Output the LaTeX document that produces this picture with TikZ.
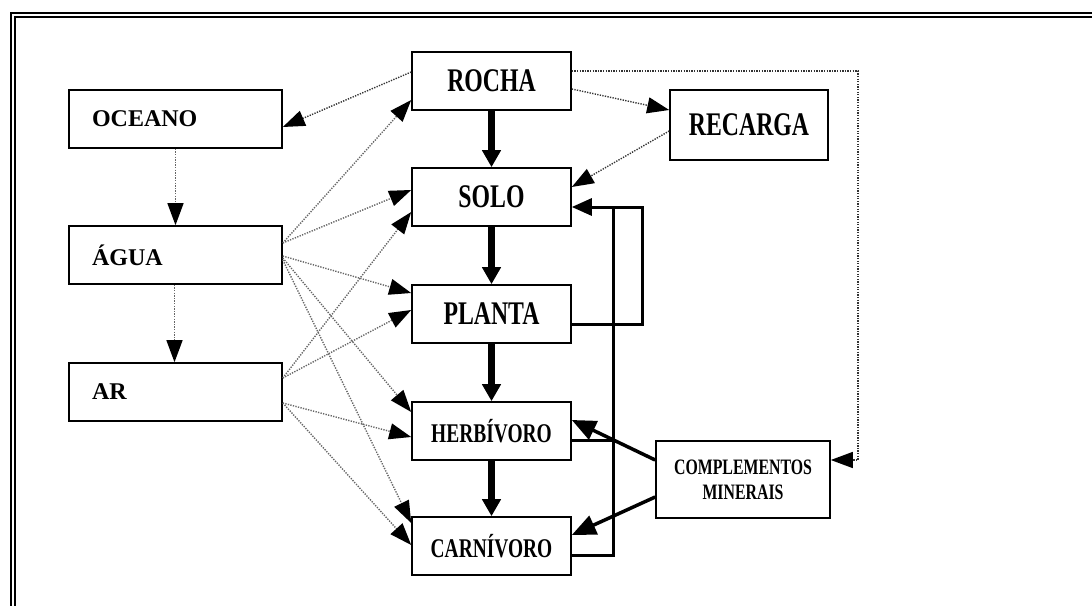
\documentclass[tikz,border=0pt]{standalone}
\usepackage{fontspec}
\setmainfont{Liberation Serif}
\newfontfamily\narrowfont[FakeStretch=0.72]{Liberation Serif}
\usepackage{tikz}
\usetikzlibrary{arrows.meta, calc}

\tikzset{
  box/.style={draw, line width=1.6pt, minimum height=58pt, inner sep=0pt},
  leftbox/.style={box, minimum width=213pt, text width=167pt, align=left,
    font=\bfseries\fontsize{24}{26}\selectfont},
  midbox/.style={box, minimum width=159pt, align=center,
    font=\narrowfont\bfseries\fontsize{33}{36}\selectfont},
  dotline/.style={dash pattern=on 1.3pt off 1.3pt, line width=1.4pt, black!60,
    -{Triangle[length=22pt, width=16pt, black]}},
  flowline/.style={line width=7pt, -{Triangle[length=17pt, width=18pt]}},
  loopline/.style={line width=3pt, line join=miter},
  addline/.style={line width=3.5pt, -{Triangle[length=24pt, width=20pt]}}
}

\begin{document}
\begin{tikzpicture}[x=1pt, y=-1pt]
  \useasboundingbox (0,0) rectangle (1092,605);

  % Frame
  \draw[double, line width=1.4pt, double distance=2.6pt] (13,615) -- (13,15) -- (1100,15);

  % Left column
  \node[leftbox] (oceano) at (175.5,119) {OCEANO};
  \node[leftbox] (agua) at (175.5,255) {ÁGUA};
  \node[leftbox] (ar) at (175.5,392) {AR};

  % Middle column
  \node[midbox] (rocha) at (491.5,81) {ROCHA};
  \node[midbox] (solo) at (491.5,197) {SOLO};
  \node[midbox] (planta) at (491.5,314) {PLANTA};
  \node[midbox, font=\narrowfont\bfseries\fontsize{27}{30}\selectfont] (herb) at (491.5,431) {HERBÍVORO};
  \node[midbox, font=\narrowfont\bfseries\fontsize{27}{30}\selectfont] (carn) at (491.5,546) {CARNÍVORO};

  % Right column
  \node[midbox, minimum width=158pt, minimum height=70pt] (recarga) at (749,125) {RECARGA};
  \node[midbox, minimum width=174pt, minimum height=77pt,
    font=\narrowfont\bfseries\fontsize{22}{25}\selectfont] (compl) at (743,479.5) {COMPLEMENTOS\\MINERAIS};

  % Food chain
  \draw[flowline] (rocha) -- (solo);
  \draw[flowline] (solo) -- (planta);
  \draw[flowline] (planta) -- (herb);
  \draw[flowline] (herb) -- (carn);

  % Return to the soil
  \coordinate (outer) at (642,207);
  \coordinate (inner) at (613,207);
  \draw[loopline] ([yshift=-10pt]planta.east) -| (outer) -- (inner);
  \draw[loopline] ([yshift=-9pt]herb.east) -- ([yshift=-9pt]herb.east -| inner);
  \draw[loopline] ([yshift=-9pt]carn.east) -| (inner);
  \draw[loopline, -{Triangle[length=20pt, width=17pt]}] (inner) -- ([yshift=-10pt]solo.east);

  % Mineral supplements
  \draw[addline] ([yshift=19.5pt]compl.west) -- ([yshift=11pt]herb.east);
  \draw[addline] ([yshift=-17.5pt]compl.west) -- ([yshift=11pt]carn.east);

  % Rock
  \draw[dotline, black!80] ([yshift=9pt]rocha.west) -- ([yshift=-8pt]oceano.east);
  \draw[dotline, black!80] ([yshift=-8pt]rocha.east) -- ([yshift=15pt]recarga.west);
  \draw[dotline, black!80] ([yshift=-6pt]recarga.west) -- ([yshift=10pt]solo.east);
  \coordinate (corner) at (858,460);
  \draw[dotline, black!80] ([yshift=10pt]rocha.east) -| (corner) -- ([yshift=19.5pt]compl.east);

  % Water cycle
  \draw[dotline] (oceano.south) -- (agua.north);
  \draw[dotline] ([xshift=-1pt]agua.south) -- ([xshift=-1pt]ar.north);

  % Water
  \draw[dotline] ([yshift=12pt]agua.east) -- ([yshift=-19pt]rocha.west);
  \draw[dotline] ([yshift=12pt]agua.east) -- ([yshift=7pt]solo.west);
  \draw[dotline] ([yshift=-1pt]agua.east) -- ([yshift=21pt]planta.west);
  \draw[dotline] ([yshift=-3pt]agua.east) -- ([yshift=19pt]herb.west);
  \draw[dotline] ([yshift=-5pt]agua.east) -- ([yshift=23pt]carn.west);

  % Air
  \draw[dotline] ([yshift=14pt]ar.east) -- ([yshift=-15pt]solo.west);
  \draw[dotline] ([yshift=14pt]ar.east) -- ([yshift=4pt]planta.west);
  \draw[dotline] ([yshift=-11pt]ar.east) -- ([yshift=-6pt]herb.west);
  \draw[dotline] ([yshift=-11pt]ar.east) -- ([yshift=1pt]carn.west);
\end{tikzpicture}
\end{document}
